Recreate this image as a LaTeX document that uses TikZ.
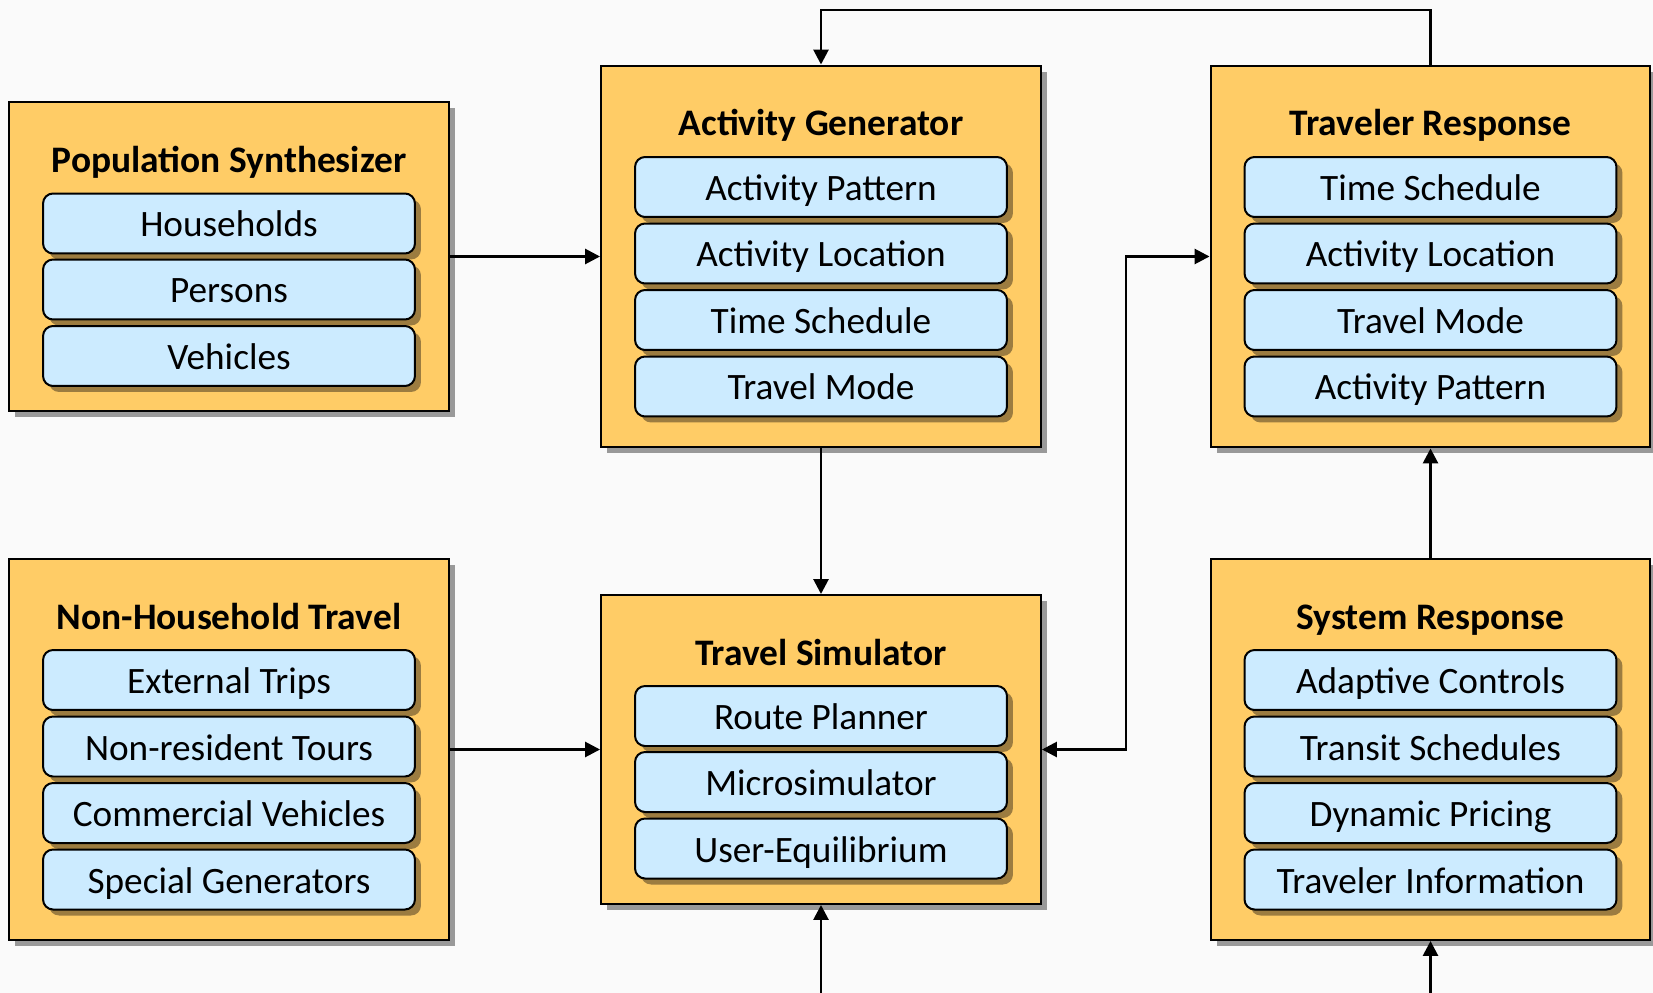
\documentclass[tikz,border=0pt]{standalone}
\usepackage{fontspec}
\setmainfont{Carlito}
\usepackage{xcolor}
\usetikzlibrary{positioning,shadows,arrows.meta}
\definecolor{boxorange}{HTML}{FFCC66}
\definecolor{itemblue}{HTML}{CCEBFF}
\definecolor{itemshade}{HTML}{9C7C40}
\definecolor{paper}{HTML}{FAFAFA}

\begin{document}
\begin{tikzpicture}[x=0.02cm,y=-0.02cm,
% common options for the modules:
module/.style = {draw, line width=0.04cm, fill=boxorange, minimum width=8.8cm,
            inner sep=0, drop shadow={shadow xshift=0.12cm, shadow yshift=-0.12cm,
            fill=black!40, opacity=1}},
% titles of the modules:
modtitle/.style = {anchor=base, inner sep=0, font=\fontsize{21.3}{25}\selectfont\bfseries},
% common options for the sub-items:
item/.style = {draw, line width=0.04cm, rounded corners=0.2cm, fill=itemblue,
            minimum width=7.44cm, minimum height=1.2cm, inner sep=0,
            text height=0.56cm, text depth=0.02cm, font=\fontsize{21.2}{25}\selectfont,
            drop shadow={shadow xshift=0.12cm, shadow yshift=-0.12cm,
            fill=itemshade, opacity=1}},
% connectors:
flow/.style = {-{Triangle[length=0.3cm,width=0.3cm]}, line width=0.055cm},
both/.style = {{Triangle[length=0.3cm,width=0.3cm]}-{Triangle[length=0.3cm,width=0.3cm]},
            line width=0.055cm}]
\fill[paper] (0,0) rectangle (1653,993);
\useasboundingbox (0,0) rectangle (1653,993);
% modules
\node[module, minimum height=6.18cm] (pop) at (229,256.5) {};
\node[module, minimum height=7.64cm] (ag) at (821,256.5) {};
\node[module, minimum height=7.64cm] (tr) at (1430.5,256.5) {};
\node[module, minimum height=7.62cm] (nh) at (229,749.5) {};
\node[module, minimum height=6.18cm] (ts) at (821,749.5) {};
\node[module, minimum height=7.62cm] (sr) at (1430.5,749.5) {};
% population synthesizer
\node[modtitle] (popT) at (229,172.5) {Population Synthesizer};
\node[item] (pop1) at (229,223.5) {Households};
\node[item] (pop2) at (229,289.5) {Persons};
\node[item] (pop3) at (229,356) {Vehicles};
% activity generator
\node[modtitle] (agT) at (821,135.5) {Activity Generator};
\node[item] (ag1) at (821,187) {Activity Pattern};
\node[item] (ag2) at (821,253.5) {Activity Location};
\node[item] (ag3) at (821,320) {Time Schedule};
\node[item] (ag4) at (821,386.5) {Travel Mode};
% traveler response
\node[modtitle] (trT) at (1430.5,135.5) {Traveler Response};
\node[item] (tr1) at (1430.5,187) {Time Schedule};
\node[item] (tr2) at (1430.5,253.5) {Activity Location};
\node[item] (tr3) at (1430.5,320) {Travel Mode};
\node[item] (tr4) at (1430.5,386.5) {Activity Pattern};
% non-household travel
\node[modtitle] (nhT) at (229,629.5) {Non-Household Travel};
\node[item] (nh1) at (229,680) {External Trips};
\node[item] (nh2) at (229,746.5) {Non-resident Tours};
\node[item] (nh3) at (229,813) {Commercial Vehicles};
\node[item] (nh4) at (229,879.5) {Special Generators};
% travel simulator
\node[modtitle] (tsT) at (821,665.5) {Travel Simulator};
\node[item] (ts1) at (821,716) {Route Planner};
\node[item] (ts2) at (821,782) {Microsimulator};
\node[item] (ts3) at (821,848.5) {User-Equilibrium};
% system response
\node[modtitle] (srT) at (1430.5,629.5) {System Response};
\node[item] (sr1) at (1430.5,680) {Adaptive Controls};
\node[item] (sr2) at (1430.5,746.5) {Transit Schedules};
\node[item] (sr3) at (1430.5,813) {Dynamic Pricing};
\node[item] (sr4) at (1430.5,879.5) {Traveler Information};
% connectors
\coordinate (feed) at (1126,500);
\coordinate (in1) at (821,993);
\coordinate (in2) at (1430.5,993);
\draw[flow] (pop.east) -- (ag.west);
\draw[flow] (nh.east) -- (ts.west);
\draw[flow] (ag.south) -- (ts.north);
\draw[flow] (tr.north) -- ++(0,-54.5) -| (ag.north);
\draw[flow] (sr.north) -- (tr.south);
\draw[both] (ts.east) -| (feed) |- (tr.west);
\draw[flow] (in1) -- (ts.south);
\draw[flow] (in2) -- (sr.south);
\end{tikzpicture}
\end{document}
